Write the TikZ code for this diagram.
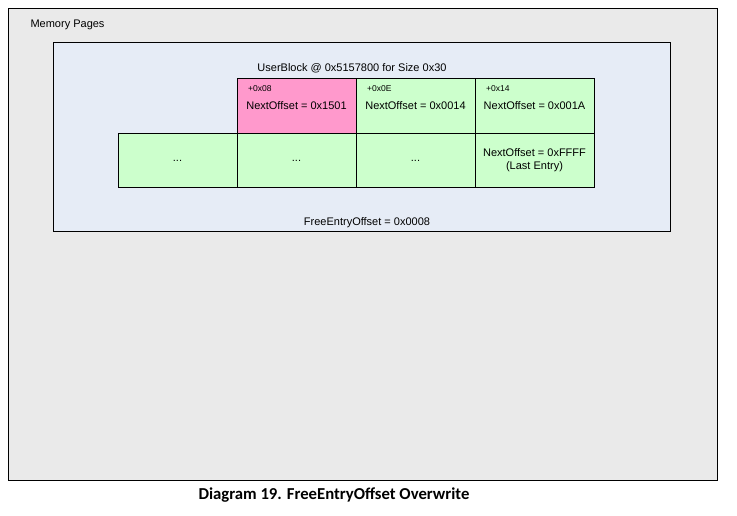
\documentclass[tikz,border=0pt]{standalone}
\usepackage{fontspec}
\setmainfont{Liberation Sans}
\newfontfamily\captionfont{Carlito}
\usetikzlibrary{positioning}

\definecolor{pagegray}{HTML}{EAEAEA}
\definecolor{blockblue}{HTML}{E6ECF6}
\definecolor{entrygreen}{HTML}{CCFFCC}
\definecolor{entrypink}{HTML}{FF99CC}

\tikzstyle{page} = [draw,fill=pagegray,line width=0.8pt]
\tikzstyle{userblock} = [draw,fill=blockblue,line width=0.8pt]
\tikzstyle{entry} = [draw,line width=0.8pt,minimum width=119pt,minimum height=54.5pt,inner sep=0pt,align=center,font=\fontsize{11}{13}\selectfont]
\tikzstyle{offset} = [font=\fontsize{8.5}{9}\selectfont,anchor=west]
\tikzstyle{label} = [font=\fontsize{11}{13}\selectfont]

\begin{document}
\begin{tikzpicture}[x=1pt,y=-1pt]
      \useasboundingbox[fill=white] (0,0) rectangle (737,515);
      %boxes
      \draw[page] (8,8) rectangle (717,480);
      \draw[userblock] (53,42) rectangle (670,231);
      \node[label,anchor=west] (pages) at (27,25) {Memory Pages};
      \node[label] (title) at (352,68.5) {UserBlock @ 0x5157800 for Size 0x30};
      \node[label] (free) at (367,222.5) {FreeEntryOffset = 0x0008};
      %entries
      \foreach \nodename/\x/\y/\color/\text in {
        e1/296.5/106/entrypink/{NextOffset = 0x1501},
        e2/415.5/106/entrygreen/{NextOffset = 0x0014},
        e3/534.5/106/entrygreen/{NextOffset = 0x001A},
        d1/177.5/160.5/entrygreen/{...},
        d2/296.5/160.5/entrygreen/{...},
        d3/415.5/160.5/entrygreen/{...},
        e4/534.5/160.5/entrygreen/{NextOffset = 0xFFFF\\(Last Entry)}}
      {
        \node[entry, fill=\color] (\nodename) at (\x,\y) {\text};
      };
      \foreach \nodename/\value in {e1/+0x08, e2/+0x0E, e3/+0x14}
      {
        \node[offset] at ([xshift=8pt,yshift=-10pt]\nodename.north west) {\value};
      };
      \node[font=\captionfont\bfseries\fontsize{16.7}{18}\selectfont] (caption) at (334,495) {Diagram 19. FreeEntryOffset Overwrite};
    \end{tikzpicture}
\end{document}
